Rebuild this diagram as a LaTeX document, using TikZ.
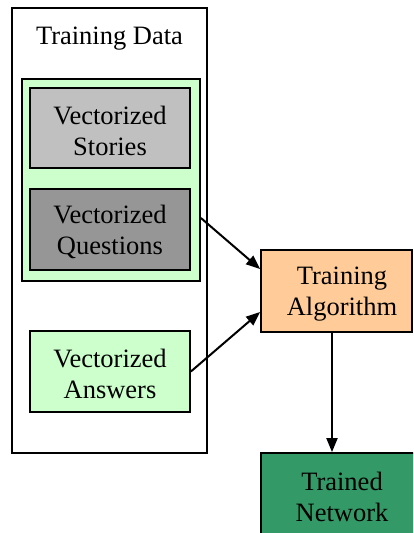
\documentclass[tikz,border=0pt]{standalone}
\usepackage{fontspec}
\setmainfont{Liberation Serif}
\usetikzlibrary{arrows.meta}
\definecolor{storyc}{HTML}{C0C0C0}
\definecolor{questc}{HTML}{969696}
\definecolor{greenc}{HTML}{CCFFCC}
\definecolor{peachc}{HTML}{FFCC99}
\definecolor{netc}{HTML}{339966}
\tikzset{
  box/.style={draw, line width=1.8pt, rectangle, inner sep=0pt, align=center,
    font=\fontsize{26.5}{31}\selectfont},
  cluster/.style={draw, line width=1.4pt, rectangle, inner sep=0pt},
  lbl/.style={inner sep=0pt, align=center, font=\fontsize{26.5}{31}\selectfont},
  edge/.style={line width=2pt, -{Triangle[length=14pt,width=11pt]}}
}
\begin{document}
\begin{tikzpicture}[x=1pt,y=-1pt]
\useasboundingbox (0,0) rectangle (413,533);
\clip (0,0) rectangle (413,533);
% outer cluster
\node[cluster, minimum width=195pt, minimum height=445pt] (train) at (109.5,230.5) {};
\node[lbl] (trainlbl) at (109.5,38.5) {Training Data};
% inner green cluster
\node[cluster, fill=greenc, line width=1.8pt, minimum width=178pt, minimum height=202pt] (green) at (111,180) {};
\node[box, fill=storyc, minimum width=160pt, minimum height=80pt] (stories) at (110,128) {};
\node[lbl] (storytxt) at (110,131) {Vectorized\\Stories};
\node[box, fill=questc, minimum width=160pt, minimum height=81pt] (quest) at (110,229.5) {};
\node[lbl] (questtxt) at (110,232) {Vectorized\\Questions};
\node[box, fill=greenc, minimum width=160pt, minimum height=81pt] (ans) at (110,371.5) {};
\node[lbl] (anstxt) at (110,374) {Vectorized\\Answers};
% algorithm
\node[box, fill=peachc, minimum width=151pt, minimum height=82pt] (alg) at (336.5,291) {};
\node[lbl] (algtxt) at (342,294) {Training\\Algorithm};
% network
\node[box, fill=netc, minimum width=163pt, minimum height=82pt] (net) at (342.5,494) {};
\node[lbl] (nettxt) at (342,497) {Trained\\Network};
% edges
\draw[edge] ([yshift=-38pt]green.east) -- ([yshift=22pt]alg.west);
\draw[edge] (ans.east) -- ([yshift=-21pt]alg.west);
\draw[edge] ([xshift=-4.5pt]alg.south) -- ([xshift=-10.5pt]net.north);
\end{tikzpicture}
\end{document}
